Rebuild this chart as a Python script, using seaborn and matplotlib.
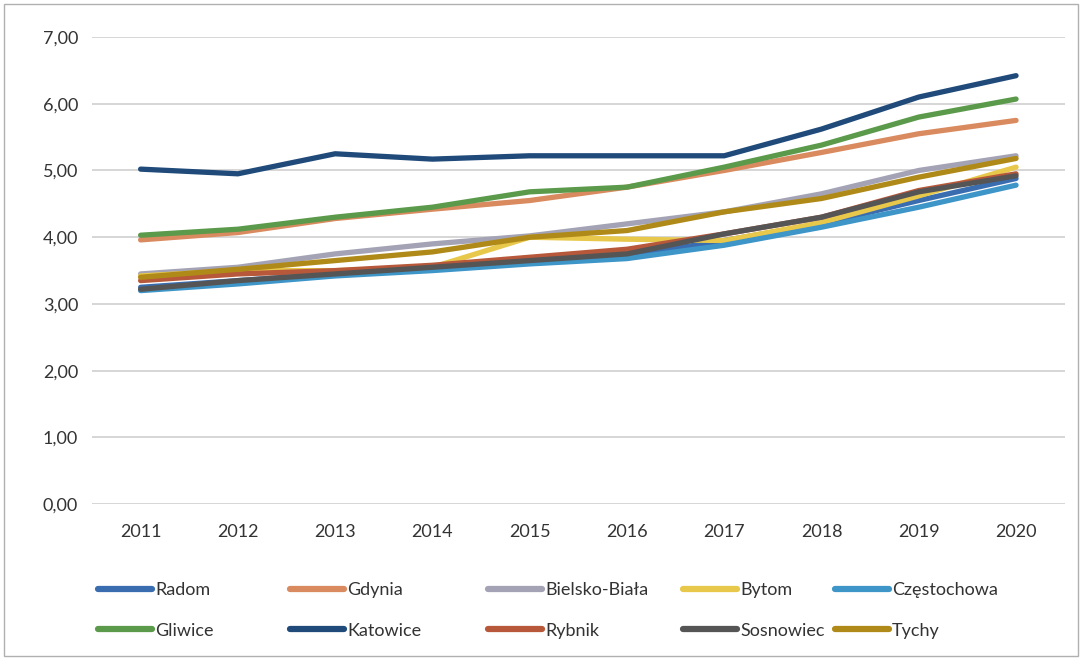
import matplotlib
matplotlib.use("Agg")
import matplotlib.pyplot as plt
import seaborn as sns
import pandas as pd
from matplotlib.ticker import FuncFormatter
from matplotlib.patches import Rectangle

years = [2011, 2012, 2013, 2014, 2015, 2016, 2017, 2018, 2019, 2020]
radom = [3.25, 3.35, 3.45, 3.53, 3.62, 3.72, 3.95, 4.20, 4.55, 4.88]
gdynia = [3.96, 4.07, 4.28, 4.42, 4.55, 4.75, 5.00, 5.27, 5.55, 5.75]
bielsko = [3.45, 3.55, 3.75, 3.90, 4.02, 4.20, 4.38, 4.65, 5.00, 5.22]
bytom = [3.42, 3.50, 3.50, 3.55, 4.00, 3.97, 3.95, 4.22, 4.62, 5.05]
czestochowa = [3.20, 3.30, 3.42, 3.50, 3.60, 3.68, 3.88, 4.15, 4.45, 4.78]
gliwice = [4.03, 4.12, 4.30, 4.45, 4.68, 4.75, 5.05, 5.38, 5.80, 6.07]
katowice = [5.02, 4.95, 5.25, 5.17, 5.22, 5.22, 5.22, 5.62, 6.10, 6.42]
rybnik = [3.35, 3.45, 3.50, 3.58, 3.70, 3.82, 4.05, 4.30, 4.70, 4.95]
sosnowiec = [3.22, 3.35, 3.45, 3.55, 3.65, 3.75, 4.05, 4.30, 4.68, 4.92]
tychy = [3.40, 3.52, 3.65, 3.78, 4.00, 4.10, 4.38, 4.58, 4.90, 5.18]

names = ["Radom", "Gdynia", "Bielsko-Biała", "Bytom", "Częstochowa",
         "Gliwice", "Katowice", "Rybnik", "Sosnowiec", "Tychy"]
series = [radom, gdynia, bielsko, bytom, czestochowa,
          gliwice, katowice, rybnik, sosnowiec, tychy]
colors = ["#3a6db0", "#d98a5e", "#a3a3b5", "#e8c84a", "#3d95c8",
          "#5a9a4a", "#1f4a7a", "#b8583a", "#555555", "#b08a18"]

rows = []
for n, s in zip(names, series):
    for i, v in enumerate(s):
        rows.append({"city": n, "idx": i, "value": v})
df = pd.DataFrame(rows)

sns.set_theme(style="white")
plt.rcParams["font.family"] = ["Lato", "DejaVu Sans"]

fig = plt.figure(figsize=(10.82, 6.6), dpi=100)
ax = fig.add_axes([0.085, 0.236, 0.899, 0.708])

sns.lineplot(data=df, x="idx", y="value", hue="city", hue_order=names,
             palette=dict(zip(names, colors)), linewidth=3.8, ax=ax,
             legend=False)

ax.set_xlim(-0.5, 9.5)
ax.set_ylim(0, 7)
ax.set_yticks([0, 1, 2, 3, 4, 5, 6, 7])
ax.yaxis.set_major_formatter(FuncFormatter(lambda v, p: f"{v:.2f}".replace(".", ",")))
ax.set_xticks(range(len(years)))
ax.set_xticklabels([str(y) for y in years])
ax.grid(axis="y", color="#d0d0d0", linewidth=1.2)
ax.set_axisbelow(True)
for sp in ax.spines.values():
    sp.set_visible(False)
ax.tick_params(axis="both", length=0, labelsize=13, colors="#333333")
ax.tick_params(axis="x", pad=14)
ax.tick_params(axis="y", pad=10)
ax.set_xlabel("")
ax.set_ylabel("")

handles = {n: plt.Line2D([], [], color=c, linewidth=4.5) for n, c in zip(names, colors)}
col_x = [98, 290, 488, 683, 835]
for k in range(5):
    cols = [names[k], names[k + 5]]
    fig.legend([handles[n] for n in cols], cols, loc="upper left",
               bbox_to_anchor=((col_x[k] - 7) / 1082, 1 - 575 / 660),
               frameon=False, fontsize=13, handlelength=3.0,
               handletextpad=0.15, labelspacing=1.35,
               borderaxespad=0, labelcolor="#333333")

fig.add_artist(Rectangle((0.004, 0.006), 0.992, 0.988, transform=fig.transFigure,
                         fill=False, edgecolor="#b0b0b0", linewidth=1))

fig.savefig("out.png", dpi=100)
